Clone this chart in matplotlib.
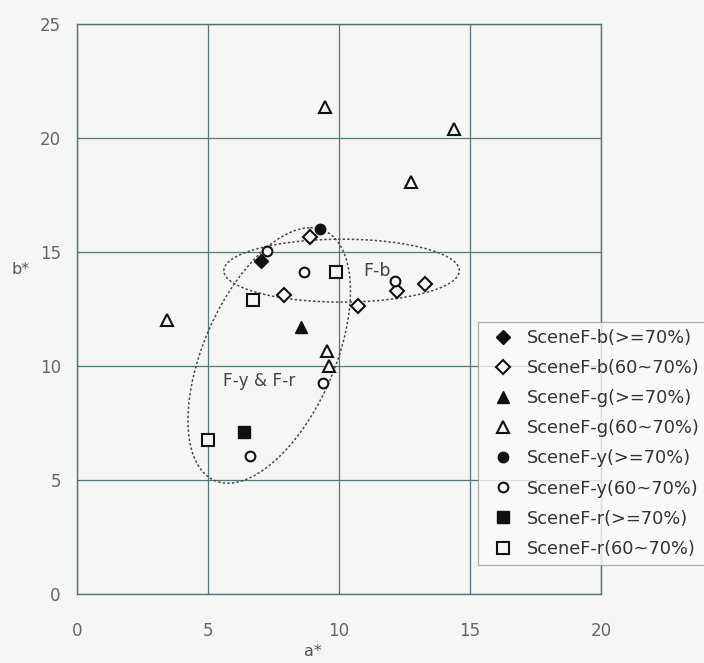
import numpy as np
import matplotlib
matplotlib.use("Agg")
import matplotlib.pyplot as plt

plt.rcParams['font.family'] = ['DejaVu Sans']

# ---- data (a*, b*) per scene group ----
b_hi_a = [7.03]
b_hi_b = [14.59]
b_mid_a = [8.88, 7.92, 10.74, 12.23, 13.27]
b_mid_b = [15.65, 13.11, 12.64, 13.29, 13.59]

g_hi_a = [8.56]
g_hi_b = [11.69]
g_mid_a = [9.45, 14.40, 12.76, 3.44, 9.55, 9.62]
g_mid_b = [21.36, 20.41, 18.06, 12.02, 10.66, 10.00]

y_hi_a = [9.27]
y_hi_b = [16.02]
y_mid_a = [7.24, 8.65, 12.13, 9.40, 6.62]
y_mid_b = [15.06, 14.10, 13.71, 9.24, 6.07]

r_hi_a = [6.36]
r_hi_b = [7.11]
r_mid_a = [9.88, 6.71, 5.00]
r_mid_b = [14.13, 12.89, 6.76]

labels = ["SceneF-b(>=70%)", "SceneF-b(60~70%)",
          "SceneF-g(>=70%)", "SceneF-g(60~70%)",
          "SceneF-y(>=70%)", "SceneF-y(60~70%)",
          "SceneF-r(>=70%)", "SceneF-r(60~70%)"]

ticks = [0, 5, 10, 15, 20, 25]

# cluster outlines: centre and two conjugate semi-axis vectors (data units)
fb_center = (10.10, 14.18)
fb_axis1 = (4.49, 0.0)
fb_axis2 = (0.0, 1.38)
fyr_center = (7.34, 10.46)
fyr_axis1 = (1.57, 5.60)
fyr_axis2 = (2.67, 0.0)

BG = '#f6f6f4'
GRID = '#56747a'
INK = '#111111'

fig = plt.figure(figsize=(7.04, 6.63), dpi=100, facecolor=BG)
ax = fig.add_axes([0.109, 0.104, 0.745, 0.860], facecolor=BG)

ax.set_xlim(0, 20)
ax.set_ylim(0, 25)
ax.set_xticks(ticks[:-1])
ax.set_yticks(ticks)
ax.grid(True, color=GRID, linewidth=0.9)
ax.set_axisbelow(True)
for s in ax.spines.values():
    s.set_color(GRID)
    s.set_linewidth(1.0)
ax.tick_params(length=0, labelsize=12, labelcolor='#666666')
ax.tick_params(axis='y', pad=11.5)
ax.tick_params(axis='x', pad=20)


def outline(center, u, v):
    t = np.linspace(0, 2 * np.pi, 300)
    xs = center[0] + u[0] * np.cos(t) + v[0] * np.sin(t)
    ys = center[1] + u[1] * np.cos(t) + v[1] * np.sin(t)
    ax.plot(xs, ys, color='#4a4a4a', linewidth=1.1, linestyle=(0, (1.6, 1.4)), zorder=2)


outline(fb_center, fb_axis1, fb_axis2)
outline(fyr_center, fyr_axis1, fyr_axis2)

ax.text(10.93, 14.17, "F-b", fontsize=12.5, color='#444444', va='center', ha='left', zorder=3)
ax.text(5.58, 9.36, "F-y & F-r", fontsize=12.2, color='#444444', va='center', ha='left', zorder=3)

filled = dict(color=INK, linestyle='none', zorder=4)
hollow = dict(markerfacecolor=BG, markeredgecolor=INK, markeredgewidth=1.5,
              linestyle='none', zorder=4)

ax.plot(b_hi_a, b_hi_b, marker='D', markersize=7, label=labels[0], **filled)
ax.plot(b_mid_a, b_mid_b, marker='D', markersize=7, label=labels[1], **hollow)
ax.plot(g_hi_a, g_hi_b, marker='^', markersize=8, label=labels[2], **filled)
ax.plot(g_mid_a, g_mid_b, marker='^', markersize=8, label=labels[3], **hollow)
ax.plot(y_hi_a, y_hi_b, marker='o', markersize=7.5, label=labels[4], **filled)
ax.plot(y_mid_a, y_mid_b, marker='o', markersize=7, label=labels[5], **hollow)
ax.plot(r_hi_a, r_hi_b, marker='s', markersize=8, label=labels[6], **filled)
ax.plot(r_mid_a, r_mid_b, marker='s', markersize=8.5, label=labels[7], **hollow)

leg = fig.legend(loc='upper left', bbox_to_anchor=(478 / 704, 1 - 322 / 663),
                 fontsize=12.8, frameon=True, fancybox=False,
                 borderpad=0.4, handlelength=2.0, handletextpad=0.36,
                 labelspacing=0.68, borderaxespad=0.0)
leg.get_frame().set_facecolor('#fafafa')
leg.get_frame().set_edgecolor('#999999')
leg.get_frame().set_linewidth(0.9)
for t in leg.get_texts():
    t.set_color('#333333')

fig.text(313 / 704, 1 - 651 / 663, "a*", fontsize=11.5, color='#555555', ha='center', va='center')
fig.text(21 / 704, 1 - 270 / 663, "b*", fontsize=11.5, color='#555555', ha='center', va='center')

fig.savefig("out.png", dpi=100, facecolor=BG)
